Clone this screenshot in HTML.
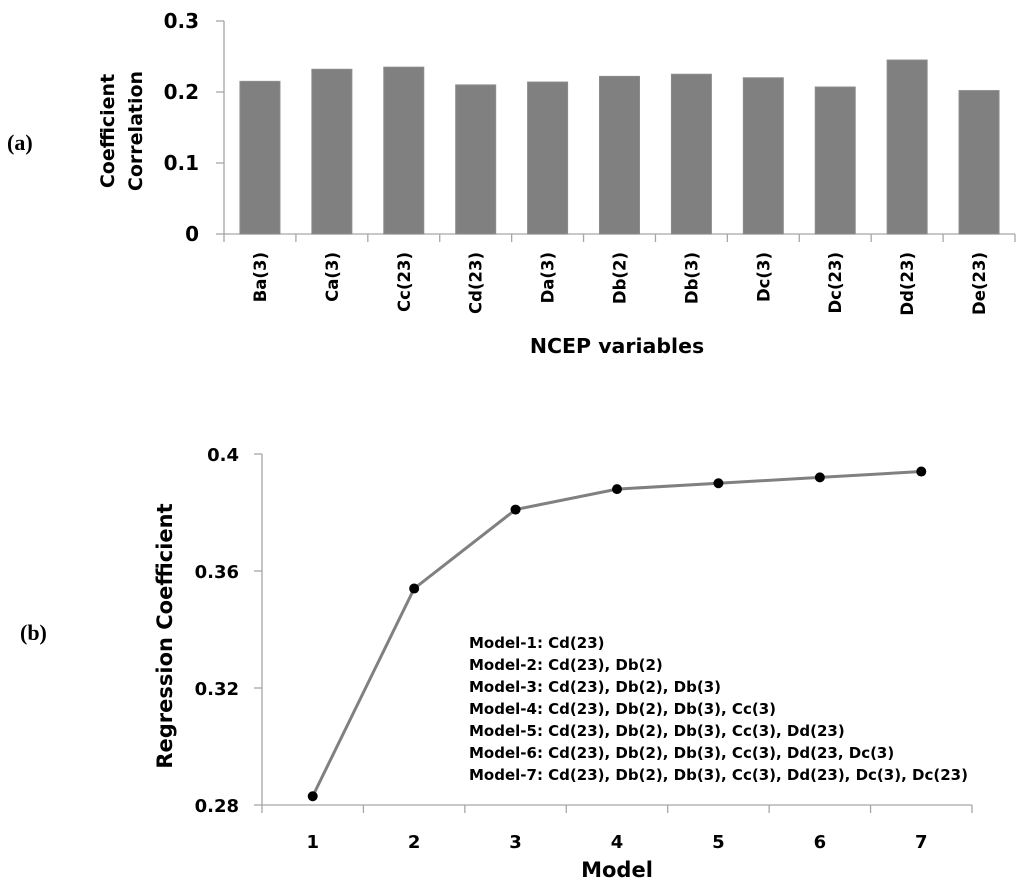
<!DOCTYPE html>
<html><head><meta charset="utf-8"><style>
body{margin:0;background:#fff;}
svg{display:block;font-family:"DejaVu Sans","Liberation Sans",sans-serif;font-weight:bold;}
</style></head><body>
<svg id="s" width="1024" height="884" viewBox="0 0 1024 884">
<text x="7" y="150" font-family="Liberation Serif" font-size="22">(a)</text>
<text x="20" y="640" font-family="Liberation Serif" font-size="22">(b)</text>
<g id="ga"></g>
<g id="gb"></g>
</svg>
<script>
const barCats=["Ba(3)","Ca(3)","Cc(23)","Cd(23)","Da(3)","Db(2)","Db(3)","Dc(3)","Dc(23)","Dd(23)","De(23)"];
const barVals=[0.215,0.232,0.235,0.210,0.214,0.222,0.225,0.220,0.207,0.245,0.202];
const barTicks=[0,0.1,0.2,0.3];
const lineCats=["1","2","3","4","5","6","7"];
const lineVals=[0.283,0.354,0.381,0.388,0.390,0.392,0.394];
const lineTicks=[0.28,0.32,0.36,0.4];
const lineTickLabels=["0.28","0.32","0.36","0.4"];
const legendLines=["Model-1: Cd(23)","Model-2: Cd(23), Db(2)","Model-3: Cd(23), Db(2), Db(3)","Model-4: Cd(23), Db(2), Db(3), Cc(3)","Model-5: Cd(23), Db(2), Db(3), Cc(3), Dd(23)","Model-6: Cd(23), Db(2), Db(3), Cc(3), Dd(23, Dc(3)","Model-7: Cd(23), Db(2), Db(3), Cc(3), Dd(23), Dc(3), Dc(23)"];
const NS="http://www.w3.org/2000/svg";
function mk(p,t,a,txt){const e=document.createElementNS(NS,t);for(const k in a)e.setAttribute(k,a[k]);if(txt!==undefined)e.textContent=txt;p.appendChild(e);return e;}
// chart A
const ga=document.getElementById('ga');
const ax0=224,ax1=1015,ay0=234,ay1=21;
const ya=v=>ay0-(v-0)/(0.3)*(ay0-ay1);
const bw=(ax1-ax0)/barCats.length;
mk(ga,'line',{x1:ax0,y1:ay1,x2:ax0,y2:ay0,stroke:'#a6a6a6','stroke-width':1.3});
mk(ga,'line',{x1:ax0,y1:ay0,x2:ax1,y2:ay0,stroke:'#a6a6a6','stroke-width':1.3});
barTicks.forEach(t=>{const y=ya(t);
 let l=mk(ga,'line',{x1:ax0-8,y1:y,x2:ax0,y2:y,stroke:'#a6a6a6','stroke-width':1.3});
 
 let tx=mk(ga,'text',{x:ax0-25,y:y+7,'text-anchor':'end','font-size':20},String(t));
 });
for(let i=0;i<=barCats.length;i++){const x=ax0+i*bw;mk(ga,'line',{x1:x,y1:ay0,x2:x,y2:ay0+8,stroke:'#a6a6a6','stroke-width':1.3});}
barCats.forEach((c,i)=>{const cx=ax0+(i+0.5)*bw;const y=ya(barVals[i]);
 const r=mk(ga,'rect',{x:cx-20,y:y,width:40,height:ay0-y,fill:'#808080',stroke:'#8c8c8c','stroke-width':1});
 
 const t=mk(ga,'text',{x:0,y:0,'text-anchor':'end','font-size':16.5,transform:`translate(${cx+6},${ay0+18}) rotate(-90)`},c);
 });
let t1=mk(ga,'text',{'text-anchor':'middle','font-size':19,transform:'translate(114,131) rotate(-90)'},'Coefficient');

let t2=mk(ga,'text',{'text-anchor':'middle','font-size':19,transform:'translate(142,131) rotate(-90)'},'Correlation');

let t3=mk(ga,'text',{x:617,y:353,'text-anchor':'middle','font-size':20.5},'NCEP variables');

// chart B
const gb=document.getElementById('gb');
const bx0=262,bx1=972,by0=805,by1=454;
const yb=v=>by0-(v-0.28)/(0.12)*(by0-by1);
const cw=(bx1-bx0)/lineCats.length;
const xb=i=>bx0+(i+0.5)*cw;
mk(gb,'line',{x1:bx0,y1:by1,x2:bx0,y2:by0,stroke:'#a6a6a6','stroke-width':1.3});
mk(gb,'line',{x1:bx0,y1:by0,x2:bx1,y2:by0,stroke:'#a6a6a6','stroke-width':1.3});
lineTicks.forEach((t,i)=>{const y=yb(t);
 mk(gb,'line',{x1:bx0-8,y1:y,x2:bx0,y2:y,stroke:'#a6a6a6','stroke-width':1.3});
 let tx=mk(gb,'text',{x:bx0-23,y:y+7,'text-anchor':'end','font-size':18},lineTickLabels[i]);
 });
for(let i=0;i<=lineCats.length;i++){const x=bx0+i*cw;mk(gb,'line',{x1:x,y1:by0,x2:x,y2:by0+8,stroke:'#a6a6a6','stroke-width':1.3});}
const pl=mk(gb,'polyline',{points:lineVals.map((v,i)=>xb(i)+','+yb(v)).join(' '),fill:'none',stroke:'#808080','stroke-width':3});

lineVals.forEach((v,i)=>{const c=mk(gb,'circle',{cx:xb(i),cy:yb(v),r:5,fill:'#000'});
 
 const t=mk(gb,'text',{x:xb(i),y:by0+43,'text-anchor':'middle','font-size':18},lineCats[i]);
 });
let t4=mk(gb,'text',{'text-anchor':'middle','font-size':21,transform:'translate(172,636) rotate(-90)'},'Regression Coefficient');

let t5=mk(gb,'text',{x:617,y:877,'text-anchor':'middle','font-size':21},'Model');

legendLines.forEach((s,i)=>{const t=mk(gb,'text',{x:469,y:648+i*22,'font-size':15},s);
 });
</script>
</body></html>
